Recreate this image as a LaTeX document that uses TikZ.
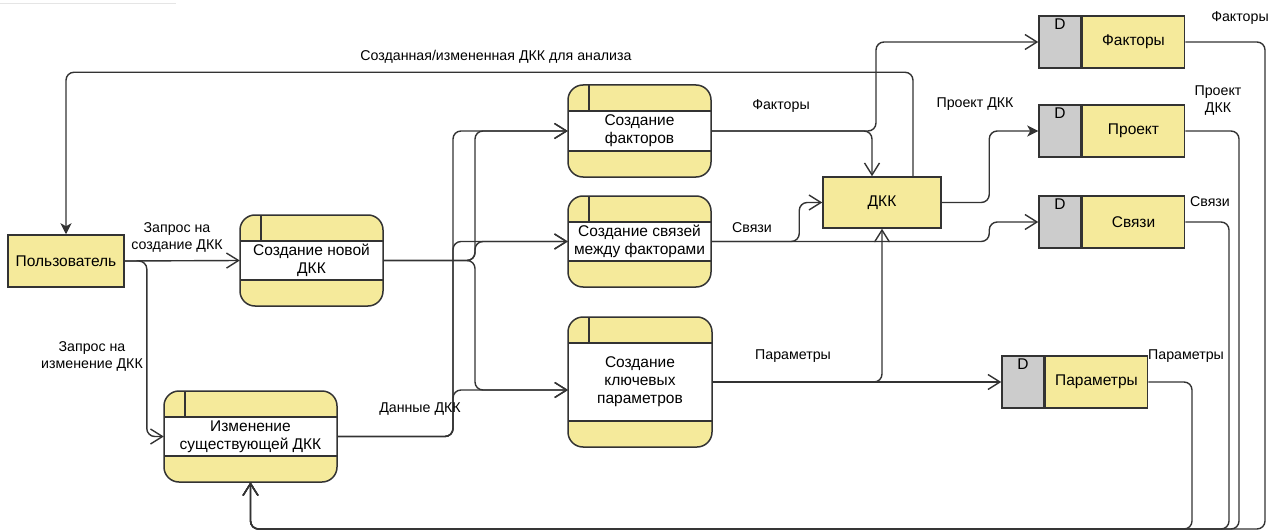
\documentclass[tikz,border=0pt]{standalone}
\usepackage{fontspec}
\setmainfont{Liberation Sans}
\usetikzlibrary{arrows.meta}
\definecolor{yel}{RGB}{245,234,155}
\definecolor{gry}{RGB}{204,204,204}
\definecolor{ln}{RGB}{51,51,51}
\begin{document}
\begin{tikzpicture}[x=1pt,y=-1pt,
  boxfont/.style={font=\fontsize{15.5}{18}\selectfont},
  lblfont/.style={font=\fontsize{14.2}{17}\selectfont},
  proc/.style={fill=yel, rounded corners=15pt,
    align=center, boxfont, inner sep=0pt, text=black,
    path picture={
      \fill[white, sharp corners] ([yshift=-26pt]path picture bounding box.north west)
        rectangle ([yshift=26pt]path picture bounding box.south east);
      \draw[ln, line width=1.5pt, sharp corners]
        ([yshift=-26pt]path picture bounding box.north west) --
        ([yshift=-26pt]path picture bounding box.north east);
      \draw[ln, line width=1.5pt, sharp corners]
        ([yshift=26pt]path picture bounding box.south west) --
        ([yshift=26pt]path picture bounding box.south east);
      \draw[ln, line width=1.5pt, sharp corners]
        ([xshift=21pt]path picture bounding box.north west) --
        ([xshift=21pt,yshift=-26pt]path picture bounding box.north west);
    },
    postaction={draw=ln, line width=1.5pt}},
  ext/.style={draw=ln, line width=1.5pt, fill=yel, boxfont, inner sep=0pt},
  stored/.style={draw=ln, line width=1.5pt, fill=gry, minimum width=42pt,
    minimum height=52pt, inner sep=0pt,
    label={[anchor=north, inner sep=3pt, boxfont]north:D}},
  storen/.style={draw=ln, line width=1.5pt, fill=yel, minimum width=102pt,
    minimum height=52pt, inner sep=0pt, boxfont},
  flow/.style={draw=ln, line width=1.4pt, rounded corners=8pt,
    -{Straight Barb[length=12pt,width=15pt,line width=1.4pt]}},
  fflow/.style={draw=ln, line width=1.4pt, rounded corners=8pt,
    -{Stealth[length=11pt,width=11pt,inset=3pt]}},
  lbl/.style={lblfont, align=center, inner sep=0pt, text=black}
]
\useasboundingbox (0,0) rectangle (1271,532);
\draw[black!10, line width=1pt] (0,4) -- (176,4);

% external entity
\node[ext, minimum width=116pt, minimum height=52pt] (user) at (66,261) {Пользователь};

% processes
\node[proc, minimum width=143pt, minimum height=91pt] (newp) at (311.5,260.5) {Создание новой\\ДКК};
\node[proc, minimum width=173pt, minimum height=91pt] (modp) at (250.5,436.5) {Изменение\\существующей ДКК};
\node[proc, minimum width=143pt, minimum height=92pt] (facp) at (639.5,131) {Создание\\факторов};
\node[proc, minimum width=143pt, minimum height=91pt] (relp) at (639.5,241.5) {Создание связей\\между факторами};
\node[proc, minimum width=144pt, minimum height=130pt] (parp) at (640,382) {Создание\\ключевых\\параметров};

% DKK
\node[ext, minimum width=118pt, minimum height=51pt] (dkk) at (882,202.5) {ДКК};

% data stores
\node[stored] (sFd) at (1060,42) {};
\node[storen, anchor=west] (sFn) at (sFd.east) {Факторы};
\node[stored] (sPrd) at (1060,131) {};
\node[storen, anchor=west] (sPrn) at (sPrd.east) {Проект};
\node[stored] (sSd) at (1060,222) {};
\node[storen, anchor=west] (sSn) at (sSd.east) {Связи};
\node[stored] (sPd) at (1023,382) {};
\node[storen, anchor=west] (sPn) at (sPd.east) {Параметры};

% helper coordinates
\coordinate (j1) at (475,0);
\coordinate (j2) at (453,0);
\coordinate (j3) at (876,0);
\coordinate (parin) at (568,390);
\coordinate (botF) at (1265,529);
\coordinate (botPr) at (1239,529);
\coordinate (botS) at (1229,529);
\coordinate (botP) at (1192,529);

% connectors
\draw[flow] (user.east) -- (newp.west);
\draw[flow] (user.east) -| ([xshift=-17pt]modp.west) -- (modp.west);

\draw[flow] (newp.east) -| (j1 |- facp.west) -- (facp.west);
\draw[flow] (newp.east) -| (j1 |- relp.west) -- (relp.west);
\draw[flow] (newp.east) -| (j1 |- parin) -- (parin);

\draw[flow] (modp.east) -| (j2 |- facp.west) -- (facp.west);
\draw[flow] (modp.east) -| (j2 |- relp.west) -- (relp.west);
\draw[flow] (modp.east) -| (j2 |- parin) -- (parin);

\draw[flow] (facp.east) -| ([xshift=-10pt]dkk.north);
\draw[flow] (facp.east) -| (j3 |- sFd.west) -- (sFd.west);

\draw[fflow] ([xshift=31pt]dkk.north) -- ++(0,-104) -| (user.north);

\draw[flow] (relp.east) -| ([xshift=-23pt]dkk.west) -- (dkk.west);
\draw[flow] (relp.east) -| ([xshift=-49pt]sSd.west) -- (sSd.west);

\draw[flow] (parp.east) -| (dkk.south);
\draw[flow] (parp.east) -- (sPd.west);

\draw[fflow] (dkk.east) -| ([xshift=-49pt]sPrd.west) -- (sPrd.west);

\draw[flow] (sFn.east) -| (botF) -| (modp.south);
\draw[flow] (sPrn.east) -| (botPr) -| (modp.south);
\draw[flow] (sSn.east) -| (botS) -| (modp.south);
\draw[flow] (sPn.east) -| (botP) -| (modp.south);

% labels
\node[lbl] (l1) at (177,237) {Запрос на\\создание ДКК};
\node[lbl] (l2) at (92,356) {Запрос на\\изменение ДКК};
\node[lbl] (l3) at (420,409) {Данные ДКК};
\node[lbl] (l4) at (496,57) {Созданная/измененная ДКК для анализа};
\node[lbl] (l5) at (781,106) {Факторы};
\node[lbl] (l6) at (752,228) {Связи};
\node[lbl] (l7) at (793,356) {Параметры};
\node[lbl] (l8) at (975,104) {Проект ДКК};
\node[lbl] (l9) at (1240,18) {Факторы};
\node[lbl] (l10) at (1218,101) {Проект\\ДКК};
\node[lbl] (l11) at (1210,202) {Связи};
\node[lbl] (l12) at (1186,356) {Параметры};
\end{tikzpicture}
\end{document}
